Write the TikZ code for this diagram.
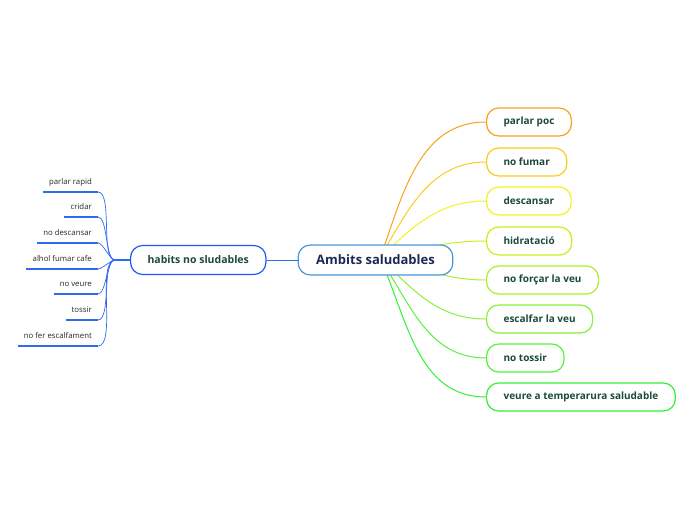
\documentclass[tikz,border=0pt]{standalone}
\usepackage{fontspec}
\setmainfont{Open Sans}
\usetikzlibrary{backgrounds}
\definecolor{txtgreen}{HTML}{1B4A3C}
\definecolor{navy}{HTML}{1A2A55}
\definecolor{hubblue}{HTML}{4A96D8}
\definecolor{habblue}{HTML}{1E5AF0}
\definecolor{twigblue}{HTML}{2E6BF0}
\definecolor{c1}{HTML}{F7A21B}
\definecolor{c2}{HTML}{FACC1E}
\definecolor{c3}{HTML}{F2F222}
\definecolor{c4}{HTML}{C8F01E}
\definecolor{c5}{HTML}{B0F02A}
\definecolor{c6}{HTML}{88F03C}
\definecolor{c7}{HTML}{58F03C}
\definecolor{c8}{HTML}{32F032}
\tikzset{
  topic/.style={draw, line width=1.2pt, rounded corners=12pt, fill=white,
    minimum height=30pt, inner xsep=18pt,
    font=\bfseries\fontsize{13}{15}\selectfont, text=navy},
  sub/.style={draw, line width=1.2pt, rounded corners=12pt, fill=white,
    minimum height=28pt, inner xsep=17pt, anchor=west,
    font=\bfseries\fontsize{10}{12}\selectfont, text=txtgreen},
  leaf/.style={inner xsep=6pt, inner ysep=1pt, anchor=east,
    font=\fontsize{7.8}{9}\selectfont, text=black!85},
  branch/.style={line width=1pt},
  twig/.style={twigblue, line width=0.7pt},
}
\begin{document}
\begin{tikzpicture}[x=1pt,y=-1pt]
\useasboundingbox (0,0) rectangle (696,520);
% central topic and the left one
\node[topic, draw=hubblue] (ambits) at (375.5,260) {Ambits saludables};
\node[sub, draw=habblue, minimum height=29pt, font=\bfseries\fontsize{10.5}{12}\selectfont] (habits) at (130,260) {habits no sludables};
\coordinate (hub) at (380,258);
\coordinate (knot) at (115,260);
\draw[twigblue, line width=1pt] (ambits.west) -- (habits.east);
\draw[twigblue, line width=1.3pt] (habits.west) -- (knot);
% right branches
\foreach \txt/\y/\col/\ang [count=\i] in {parlar poc/122/c1/70, no fumar/162/c2/60,
    descansar/201/c3/44, hidratació/241/c4/12, no forçar la veu/280/c5/-12,
    escalfar la veu/319/c6/-44, no tossir/358/c7/-57,
    veure a temperarura saludable/397/c8/-66} {
  \node[sub, draw=\col] (s\i) at (486,\y) {\txt};
  \begin{scope}[on background layer]
    \draw[branch, \col] (hub) to[out=\ang,in=180] (s\i.west);
  \end{scope}
}
% left leaves
\foreach \txt/\y/\w [count=\i] in {parlar rapid/192/1.6, cridar/217/1.6,
    no descansar/243/1.6, alhol fumar cafe/269/2.4, no veure/294/1.6,
    tossir/320/1.6, no fer escalfament/346/1.6} {
  \coordinate (e\i) at (98,\y);
  \node[leaf] (l\i) at (98,\y-10) {\txt};
  \draw[twigblue, line width=\w pt] (l\i.west |- e\i) -- (e\i);
  \draw[twig] (knot) to[out=180,in=0,looseness=0.55] (e\i);
}
\end{tikzpicture}
\end{document}
